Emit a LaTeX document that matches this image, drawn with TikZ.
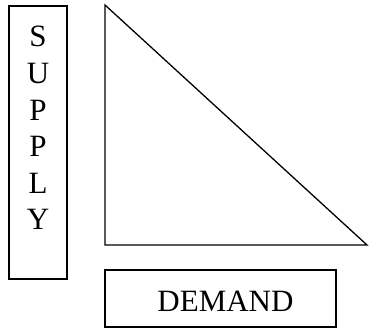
\documentclass[tikz,border=0pt]{standalone}
\usepackage{fontspec}
\setmainfont{Liberation Serif}
\begin{document}
\begin{tikzpicture}[x=1pt,y=1pt,
  box/.style={draw,line width=1.2pt,inner sep=0pt},
  lbl/.style={font=\fontsize{31}{36.6}\selectfont,inner sep=0pt,align=center}]
\useasboundingbox (0,0) rectangle (369,329);
\node[box,minimum width=58pt,minimum height=273pt] (supply) at (38,186.5) {};
\node[lbl,anchor=base] (supplytext) at (38,99) {S\\U\\P\\P\\L\\Y};
\coordinate (t1) at (105,324);
\coordinate (t2) at (105,84);
\coordinate (t3) at (367,84);
\draw[line width=1.3pt,line join=miter] (t1) -- (t2) -- (t3) -- cycle;
\node[box,minimum width=231pt,minimum height=57pt] (demand) at (220.5,30.5) {};
\node[lbl,anchor=base] (demandtext) at (225.5,17) {DEMAND};
\end{tikzpicture}
\end{document}
